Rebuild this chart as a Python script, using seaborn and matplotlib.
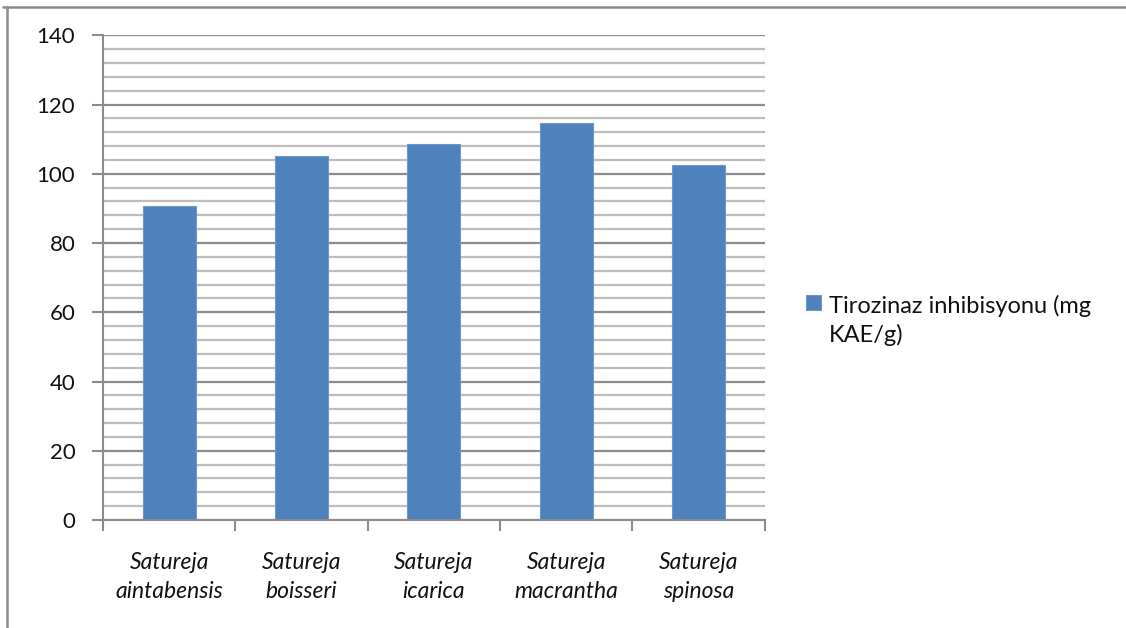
import matplotlib
matplotlib.use("Agg")
import matplotlib.pyplot as plt
from matplotlib.lines import Line2D
from matplotlib.ticker import MultipleLocator, FixedLocator
import seaborn as sns
import pandas as pd

species = ["Satureja\naintabensis", "Satureja\nboisseri", "Satureja\nicarica",
           "Satureja\nmacrantha", "Satureja\nspinosa"]
tyrosinase = [90.7, 105.1, 108.5, 114.8, 102.5]
series_label = "Tirozinaz inhibisyonu (mg\nKAE/g)"

sns.set_theme(style="white")
plt.rcParams["font.family"] = ["Lato", "DejaVu Sans"]

df = pd.DataFrame({"species": species, "value": tyrosinase})

fig = plt.figure(figsize=(11.26, 6.28), dpi=100)
ax = fig.add_axes([0.0915, 0.172, 0.5875, 0.7718])

sns.barplot(data=df, x="species", y="value", color="#4F81BD", width=0.4,
            saturation=1, edgecolor="#6f98c9", linewidth=0.8,
            label=series_label, ax=ax, zorder=3)

ax.set_ylim(0, 140)
ax.set_xlim(-0.5, len(species) - 0.5)
ax.set_xlabel("")
ax.set_ylabel("")

ax.yaxis.set_major_locator(MultipleLocator(20))
ax.yaxis.set_minor_locator(MultipleLocator(4))
ax.grid(which="major", axis="y", color="#8c8c8c", linewidth=1.6, zorder=1)
ax.grid(which="minor", axis="y", color="#bdbdbd", linewidth=1.6, zorder=1)
ax.grid(which="both", axis="x", visible=False)

ax.xaxis.set_minor_locator(FixedLocator([i - 0.5 for i in range(len(species) + 1)]))
ax.tick_params(axis="x", which="major", length=0, pad=23, labelsize=16.5,
               labelcolor="#111111")
ax.tick_params(axis="x", which="minor", length=8, width=1.5, color="#8c8c8c",
               direction="out", bottom=True)
ax.tick_params(axis="y", which="major", length=8, width=1.5, color="#8c8c8c",
               direction="out", left=True, labelsize=16, pad=12, labelcolor="#111111")
ax.tick_params(axis="y", which="minor", length=0)
for lab in ax.get_xticklabels():
    lab.set_fontstyle("italic")
    lab.set_linespacing(1.5)

for side in ["top", "right"]:
    ax.spines[side].set_visible(False)
for side in ["left", "bottom"]:
    ax.spines[side].set_color("#8c8c8c")
    ax.spines[side].set_linewidth(1.5)
    ax.spines[side].set_zorder(4)

leg = ax.legend(loc="upper left", bbox_to_anchor=(0.7075, 0.546),
                bbox_transform=fig.transFigure, frameon=False, fontsize=17,
                handlelength=0.65, handleheight=0.65, handletextpad=0.3,
                borderaxespad=0)
for t in leg.get_texts():
    t.set_linespacing(1.4)
    t.set_color("#111111")
# keep the colour square level with the first line of the label
for column in leg._legend_handle_box.get_children():
    for item in column.get_children():
        item.align = "top"

# outer frame of the chart area (top and left edges)
fig.add_artist(Line2D([0.003, 1.0], [0.989, 0.989], transform=fig.transFigure,
                      color="#8c8c8c", linewidth=1.8))
fig.add_artist(Line2D([0.006, 0.006], [0.0, 0.989], transform=fig.transFigure,
                      color="#8c8c8c", linewidth=1.8))

fig.savefig("out.png", dpi=100)
